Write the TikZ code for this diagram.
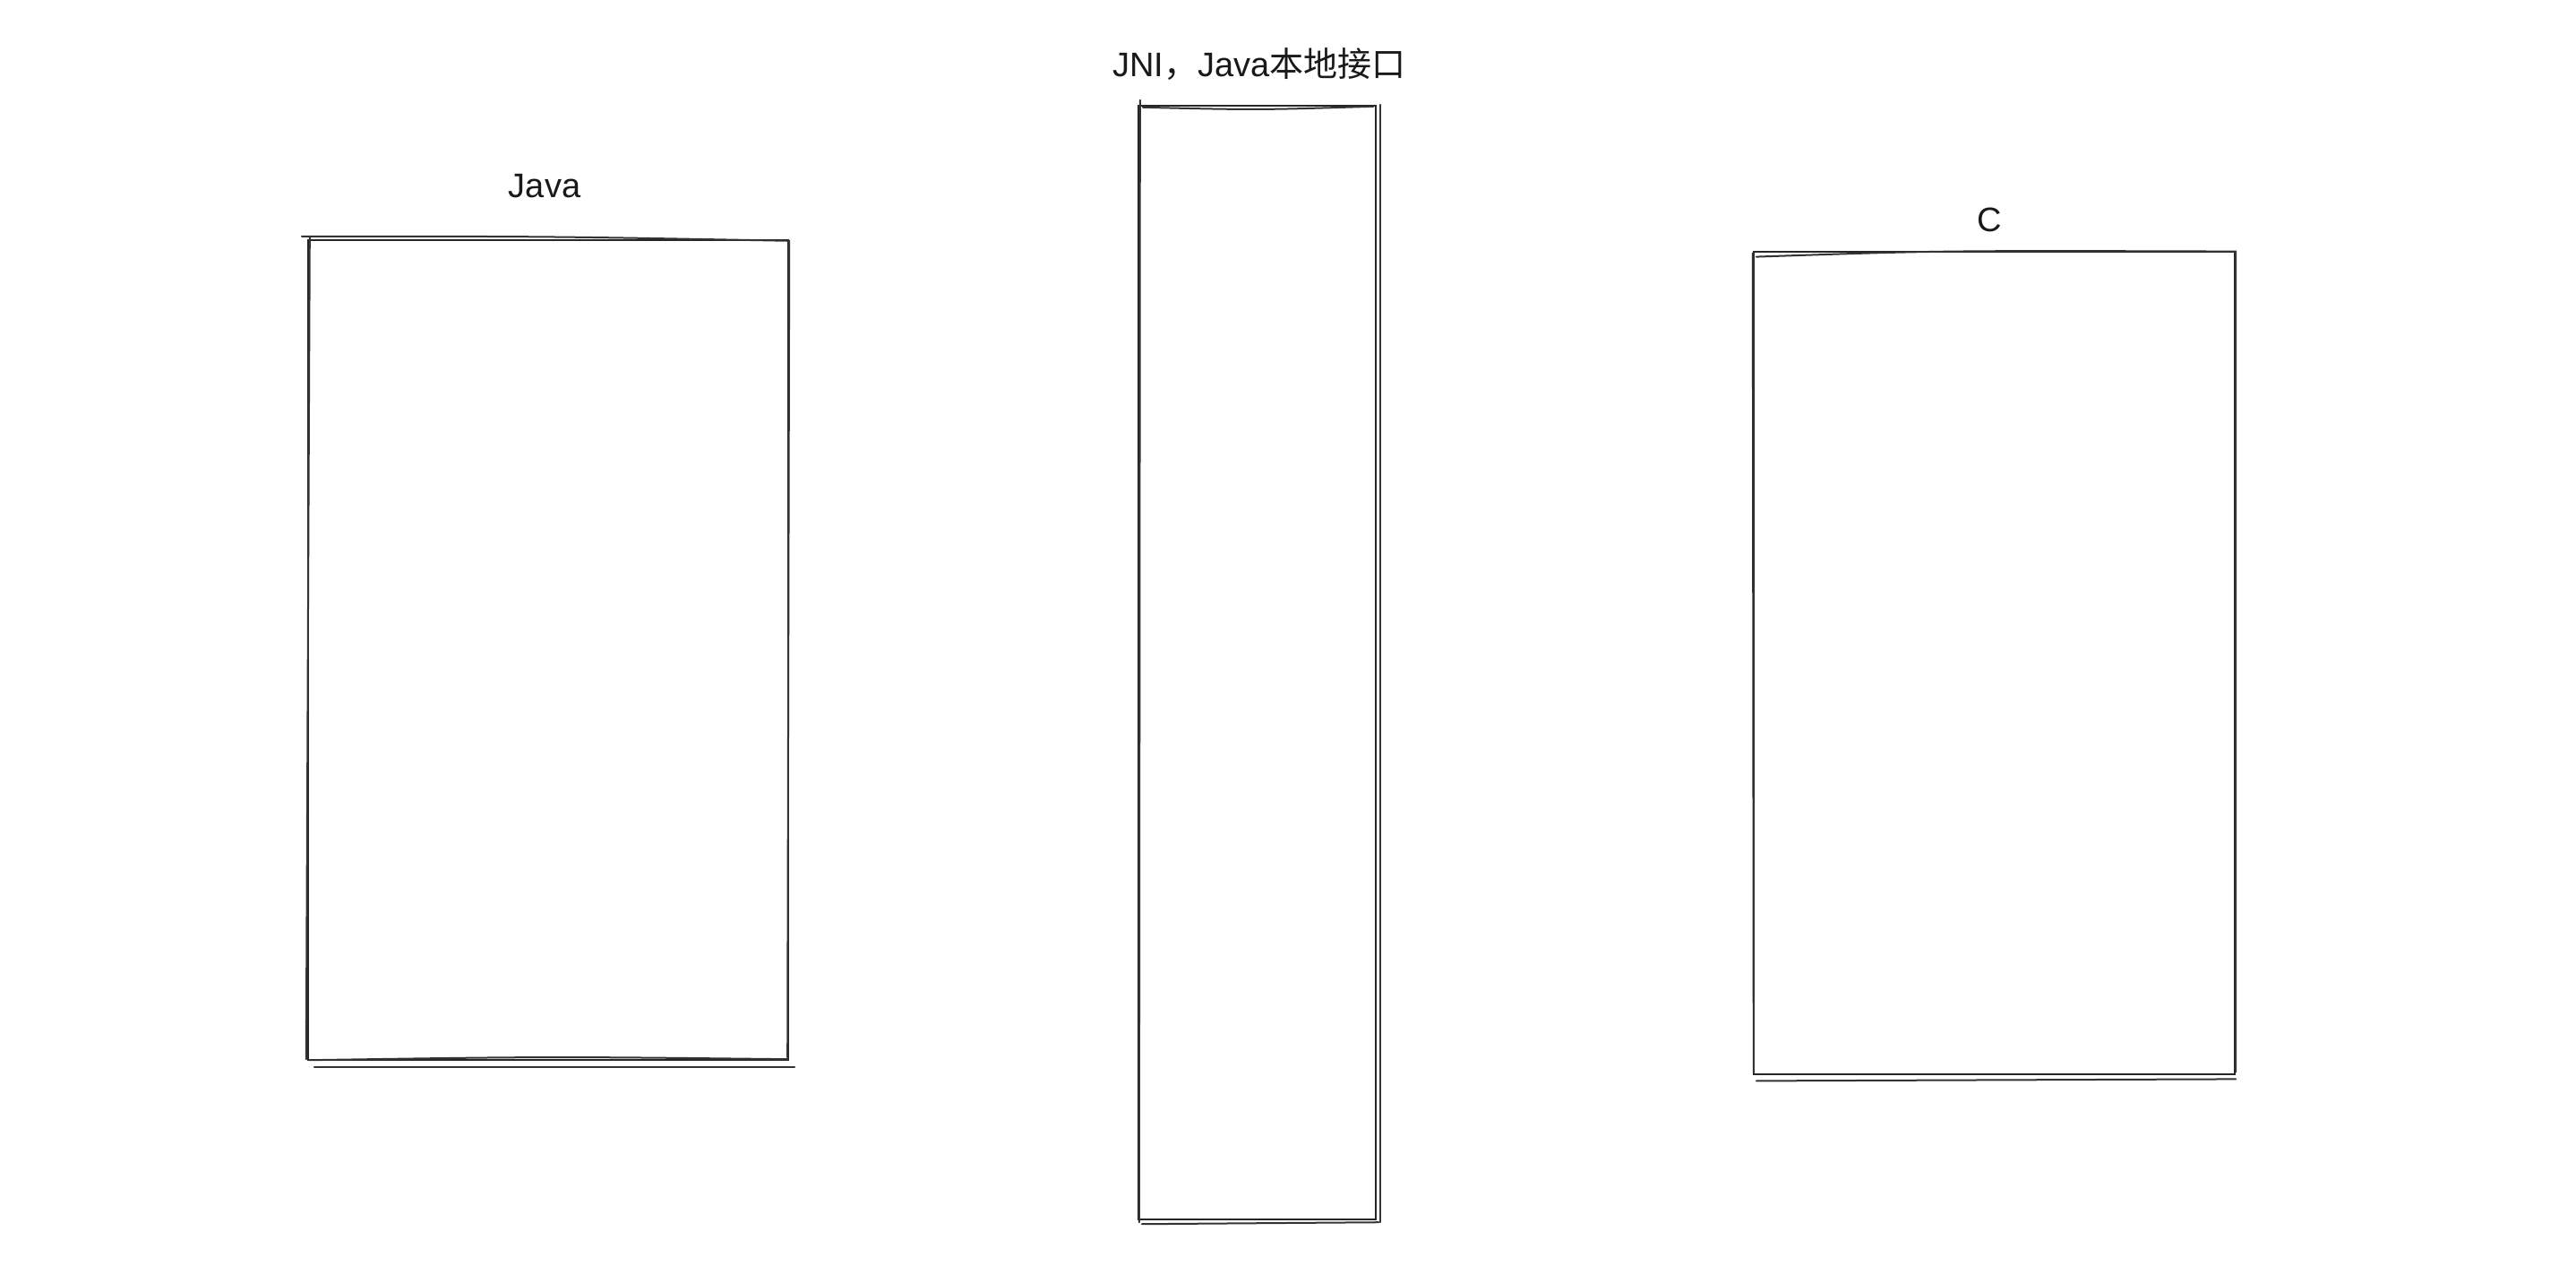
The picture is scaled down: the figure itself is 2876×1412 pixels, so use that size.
\documentclass[tikz,border=0pt]{standalone}
\usepackage{fontspec}
\setmainfont{Liberation Sans}
\newfontfamily\cjk{Noto Sans CJK SC}
\usetikzlibrary{calc}
\tikzset{
  x=0.25pt, y=-0.25pt,
  box/.style={draw=black!85, line width=0.6pt, rectangle, inner sep=0pt},
  stroke/.style={draw=black!80, line width=0.5pt, line cap=round},
  lbl/.style={font=\fontsize{9.5pt}{11pt}\selectfont, inner sep=0pt, text=black!90}
}
\begin{document}
\begin{tikzpicture}
\useasboundingbox[fill=white] (0,0) rectangle (2876,1412);
% boxes
\node[box, minimum width=134pt, minimum height=228.75pt] (java) at (612,725.5) {};
\node[box, minimum width=66.25pt, minimum height=310.75pt] (jni) at (1403.5,739.5) {};
\node[box, minimum width=134.25pt, minimum height=229.6pt] (c) at (2226.5,740) {};
% second sketch strokes
\draw[stroke] ($(java.north west)+(-6,-3)$) .. controls ($(java.north)+(0,-3)$) .. ($(java.north east)+(0,2)$)
  -- ($(java.south east)+(-2,-4)$);
\draw[stroke] ($(java.north west)+(3,-2)$) -- ($(java.south west)+(-1,-2)$);
\draw[stroke] ($(java.south west)+(8,7)$) -- ($(java.south east)+(6,7)$);
\draw[stroke] ($(java.south west)+(2,-1)$) .. controls ($(java.south)+(0,-5)$) .. ($(java.south east)+(-1,-2)$);
\draw[stroke] ($(jni.north west)+(6,3)$) .. controls ($(jni.north)+(0,6)$) .. ($(jni.north east)+(-4,2)$);
\draw[stroke] ($(jni.north east)+(4,0)$) -- ($(jni.south east)+(4,2)$);
\draw[stroke] ($(jni.north west)+(3,-5)$) -- ($(jni.south west)+(2,2)$);
\draw[stroke] ($(jni.south west)+(5,4)$) -- ($(jni.south east)+(2,2)$);
\draw[stroke] ($(c.north west)+(4,7)$) .. controls ($(c.north)+(-60,0)$) .. ($(c.north east)+(0,1)$)
  -- ($(c.south east)+(0,-4)$);
\draw[stroke] ($(c.north west)+(0,3)$) -- ($(c.south west)+(1,-3)$);
\draw[stroke] ($(c.south west)+(4,6)$) -- ($(c.south east)+(0,4)$);
% labels
\node[lbl] (javalbl) at (608,208) {Java};
\node[lbl] (jnilbl) at (1406,72) {JNI{\cjk ，}Java{\cjk 本地接口}};
\node[lbl] (clbl) at (2221,245) {C};
\end{tikzpicture}
\end{document}
